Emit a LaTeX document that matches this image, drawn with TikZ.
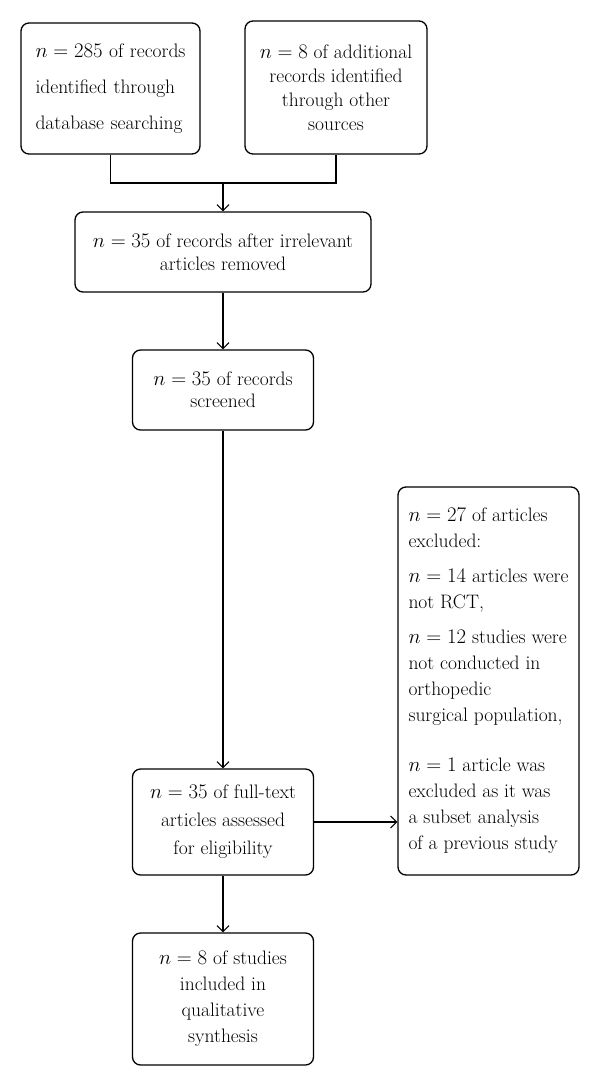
\documentclass[tikz,border=0pt]{standalone}
\usepackage{amsmath}
\usepackage{tikz}
\usetikzlibrary{arrows.meta}

\begin{document}
\begin{tikzpicture}[x=1pt, y=-1pt,
	box/.style={draw, line width=1.3pt, rounded corners=8pt, inner sep=0pt,
		minimum width=181pt, align=center, font=\fontsize{19.5}{24}\selectfont},
	flow/.style={line width=1.1pt, -{Straight Barb[length=6pt,width=12pt,line width=1.1pt]}}]

	\useasboundingbox (0,0) rectangle (600,1087);

	% node definitions
	\node[box, minimum width=179pt, minimum height=131pt, align=left, text width=150pt]
	        (found) at (110.5,88.5) {$n = 285$ of records\\[12pt]identified through\\[12pt]database searching};
	\node[box, minimum width=182pt, minimum height=133pt]
	        (other) at (336,87.5) {$n = 8$ of additional\\records identified\\through other\\sources};
	\node[box, minimum width=296pt, minimum height=80pt]
	      (removed) at (223,252) {$n = 35$ of records after irrelevant\\[-1pt]articles removed};
	\node[box, minimum height=80pt]
	     (screened) at (223,390) {$n = 35$ of records\\[-2pt]screened};
	\node[box, minimum height=106pt]
	     (fulltext) at (223,822) {$n = 35$ of full-text\\[4pt]articles assessed\\[4pt]for eligibility};
	\node[box, minimum height=388pt, align=left]
	     (excluded) at (488.5,681) {$n = 27$ of articles\\[2pt]excluded:\\[11pt]
	        $n = 14$ articles were\\[2pt]not RCT,\\[11pt]
	        $n = 12$ studies were\\[2pt]not conducted in\\[2pt]orthopedic\\[2pt]surgical population,\\[26pt]
	        $n = 1$ article was\\[2pt]excluded as it was\\[2pt]a subset analysis\\[2pt]of a previous study};
	\node[box, minimum height=132pt]
	     (included) at (223,999) {$n = 8$ of studies\\[2pt]included in\\[2pt]qualitative\\[2pt]synthesis};
	\coordinate (merge) at (223,183);

	% arrows
	\draw[line width=1.1pt] (found.south) |- (merge) -| (other.south);
	\draw[flow]    (merge) -- (removed);
	\draw[flow]  (removed) -- (screened);
	\draw[flow] (screened) -- (fulltext);
	\draw[flow] (fulltext) -- (fulltext.east -| excluded.west);
	\draw[flow] (fulltext) -- (included);

\end{tikzpicture}
\end{document}
